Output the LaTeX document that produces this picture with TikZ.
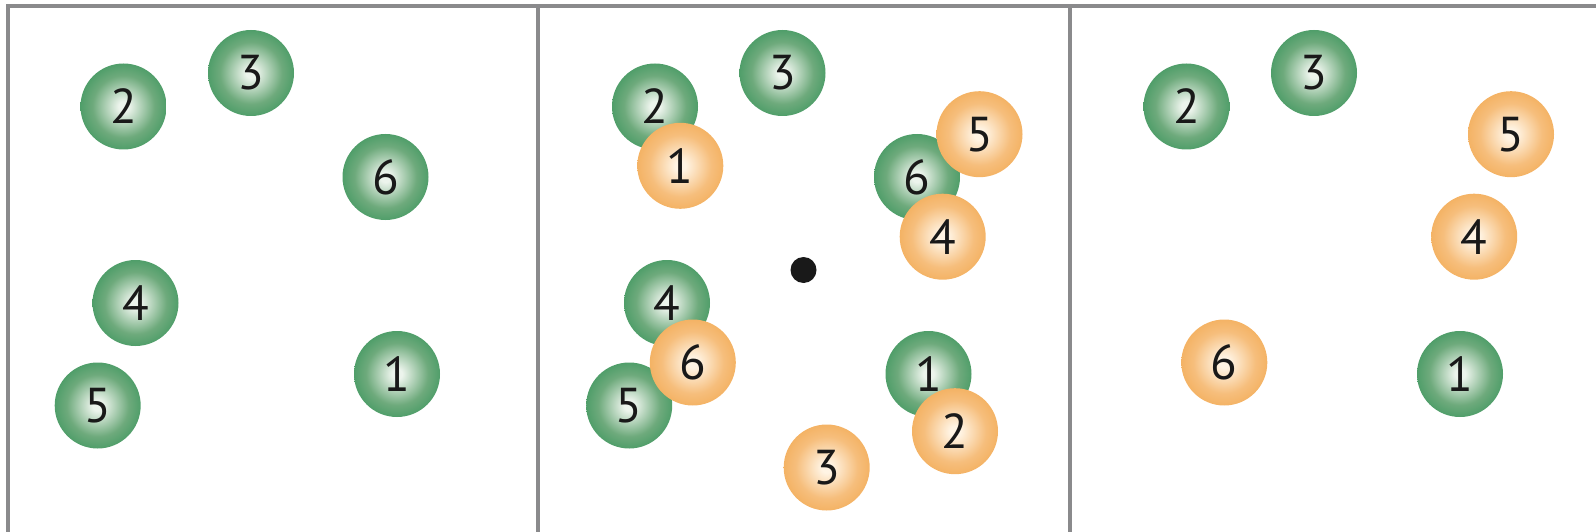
\documentclass[tikz,border=0pt]{standalone}
\usepackage{fontspec}
\setmainfont{PT Sans}
\definecolor{gouter}{RGB}{24,136,72}
\definecolor{gmid}{RGB}{110,170,124}
\definecolor{ginner}{RGB}{236,244,236}
\definecolor{oouter}{RGB}{240,158,58}
\definecolor{omid}{RGB}{246,190,124}
\definecolor{oinner}{RGB}{255,244,228}
\definecolor{framegray}{RGB}{138,138,140}
\pgfdeclareradialshading{greenball}{\pgfpoint{0bp}{0bp}}{color(0bp)=(ginner); color(3bp)=(ginner); color(18bp)=(gmid); color(38bp)=(gouter); color(50bp)=(gouter)}
\pgfdeclareradialshading{orangeball}{\pgfpoint{0bp}{0bp}}{color(0bp)=(oinner); color(3bp)=(oinner); color(18bp)=(omid); color(38bp)=(oouter); color(50bp)=(oouter)}
\tikzset{
  ball/.style={circle, minimum size=86pt, inner sep=0pt, font=\fontsize{49}{49}\selectfont, text=black!90},
  gball/.style={ball, shading=greenball},
  oball/.style={ball, shading=orangeball},
  frameline/.style={draw=framegray, line width=4pt},
  pivot/.style={circle, fill=black!90, minimum size=26pt, inner sep=0pt}
}
\begin{document}
\begin{tikzpicture}[x=1pt,y=-1pt]
\useasboundingbox (0,0) rectangle (1596,532);
% frame
\coordinate (bl) at (8,532);
\coordinate (tl) at (8,6.5);
\coordinate (tr) at (1596,6.5);
\coordinate (d1t) at (538,6.5);
\coordinate (d1b) at (538,532);
\coordinate (d2t) at (1069.5,6.5);
\coordinate (d2b) at (1069.5,532);
\draw[frameline] (bl) -- (tl) -- (tr);
\draw[frameline] (d1t) -- (d1b);
\draw[frameline] (d2t) -- (d2b);
% panel 1 (greens)
\foreach \n/\x/\y in {1/397/374, 2/123.5/106.5, 3/251/73, 4/135.5/303, 5/97.7/405.5, 6/385.5/177}
  \node[gball] (p1g\n) at (\x,\y) {\n};
% panel 2 (greens, pivot, oranges)
\foreach \n/\x/\y in {1/397/374, 2/123.5/106.5, 3/251/73, 4/135.5/303, 5/97.7/405.5, 6/385.5/177}
  \node[gball] (p2g\n) at ({\x+531.5},\y) {\n};
\node[pivot] (p2c) at (803.5,270) {};
\foreach \n/\x/\y in {1/148.8/165.8, 2/423.5/431.2, 3/295.2/467.5, 4/411.2/236.7, 5/448/134.2, 6/161.3/362.5}
  \node[oball] (p2o\n) at ({\x+531.5},\y) {\n};
% panel 3
\foreach \n/\x/\y in {1/397/374, 2/123.5/106.5, 3/251/73}
  \node[gball] (p3g\n) at ({\x+1063},\y) {\n};
\foreach \n/\x/\y in {4/411.2/236.7, 5/448/134.2, 6/161.3/362.5}
  \node[oball] (p3o\n) at ({\x+1063},\y) {\n};
\end{tikzpicture}
\end{document}
